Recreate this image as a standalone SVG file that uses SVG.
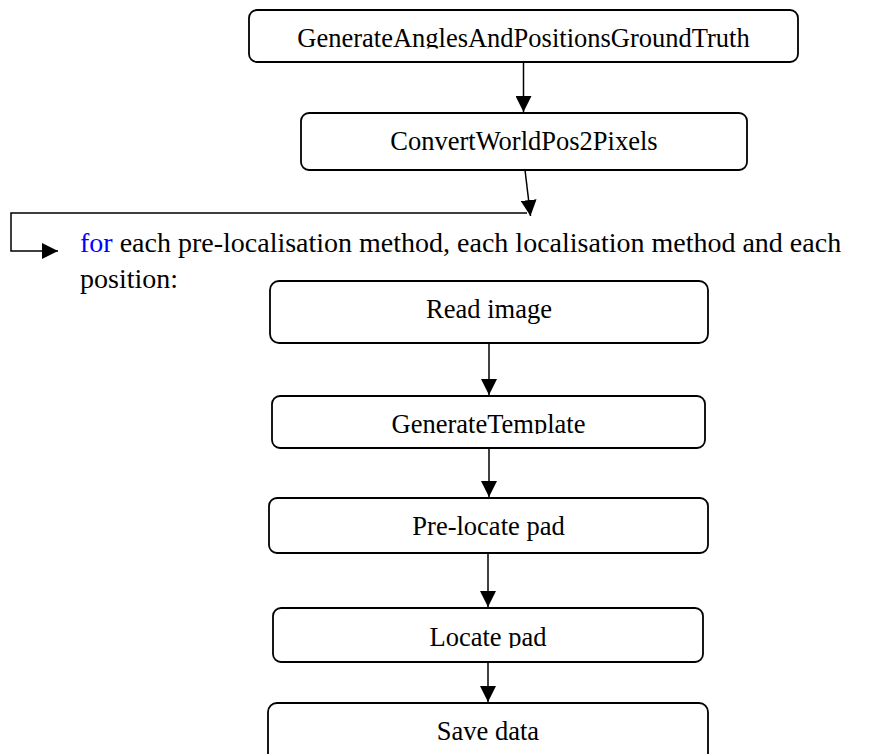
<svg xmlns="http://www.w3.org/2000/svg" width="880" height="754" viewBox="0 0 880 754">
<style>
.box{fill:#fff;stroke:#000;stroke-width:1.8}
.lbl{font-family:"Liberation Serif","Times New Roman",serif;font-size:26.5px;fill:#000;text-anchor:middle}
.loop{font-family:"Liberation Serif","Times New Roman",serif;font-size:28px;fill:#000}
.con{fill:none;stroke:#000;stroke-width:1.5}
</style>
<defs>
<marker id="ah" viewBox="0 0 16 16" refX="16" refY="8" markerWidth="16" markerHeight="16" markerUnits="userSpaceOnUse" orient="auto">
<path d="M0,0 L16,8 L0,16 Z" fill="#000"/>
</marker>
<clipPath id="c1"><rect x="240" y="0" width="570" height="48.5"/></clipPath>
<clipPath id="c5"><rect x="260" y="390" width="460" height="44"/></clipPath>
<clipPath id="c7"><rect x="260" y="600" width="460" height="48"/></clipPath>
</defs>
<rect width="880" height="754" fill="#fff"/>
<g id="connectors">
<line class="con" x1="523.5" y1="62" x2="523.5" y2="112" marker-end="url(#ah)"/>
<line class="con" x1="525" y1="170" x2="530.5" y2="216" marker-end="url(#ah)"/>
<polyline class="con" points="527,213 11,213 11,251 58,251" marker-end="url(#ah)"/>
<line class="con" x1="489" y1="343" x2="489" y2="395" marker-end="url(#ah)"/>
<line class="con" x1="489" y1="448" x2="489" y2="497" marker-end="url(#ah)"/>
<line class="con" x1="488" y1="553" x2="488" y2="607" marker-end="url(#ah)"/>
<line class="con" x1="488" y1="662" x2="488" y2="702" marker-end="url(#ah)"/>
</g>
<g id="n1">
<rect class="box" x="249" y="10" width="549" height="52" rx="8"/>
<text class="lbl" x="523.5" y="46.5" clip-path="url(#c1)">GenerateAnglesAndPositionsGroundTruth</text>
</g>
<g id="n2">
<rect class="box" x="301" y="113" width="446" height="57" rx="8"/>
<text class="lbl" x="524" y="150">ConvertWorldPos2Pixels</text>
</g>
<g id="loop">
<text class="loop" x="80" y="252"><tspan fill="#0000ff">for</tspan> each pre-localisation method, each localisation method and each</text>
<text class="loop" x="80" y="288">position:</text>
</g>
<g id="n3">
<rect class="box" x="270" y="281" width="438" height="62" rx="9"/>
<text class="lbl" x="489" y="318">Read image</text>
</g>
<g id="n4">
<rect class="box" x="272" y="396" width="433" height="52" rx="8"/>
<text class="lbl" x="488.5" y="433" clip-path="url(#c5)">GenerateTemplate</text>
</g>
<g id="n5">
<rect class="box" x="269" y="498" width="439" height="55" rx="8"/>
<text class="lbl" x="488.5" y="535">Pre-locate pad</text>
</g>
<g id="n6">
<rect class="box" x="273" y="608" width="430" height="54" rx="8"/>
<text class="lbl" x="488" y="646" clip-path="url(#c7)">Locate pad</text>
</g>
<g id="n7">
<rect class="box" x="268" y="703" width="440" height="70" rx="9"/>
<text class="lbl" x="488" y="740">Save data</text>
</g>
</svg>
